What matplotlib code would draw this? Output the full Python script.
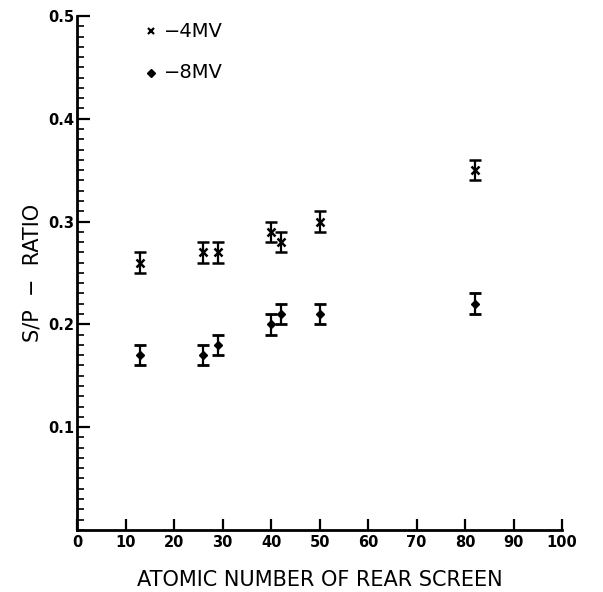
import numpy as np
import matplotlib.pyplot as plt
from matplotlib.ticker import MultipleLocator

# atomic number of rear screen
z = [13, 26, 29, 40, 42, 50, 82]

# S/P ratio for the two beam energies
sp_4mv = [0.26, 0.27, 0.27, 0.29, 0.28, 0.30, 0.35]
sp_8mv = [0.17, 0.17, 0.18, 0.20, 0.21, 0.21, 0.22]
err = [0.01, 0.01, 0.01, 0.01, 0.01, 0.01, 0.01]

labels = ['\u22124MV', '\u22128MV']


def main():
    fig = plt.figure(figsize=(6.03, 5.92), dpi=100)
    ax = fig.add_axes([0.128, 0.105, 0.804, 0.868])

    ax.errorbar(z, sp_4mv, yerr=err, fmt='x', color='black', ms=5.5, mew=1.8,
                ecolor='black', elinewidth=1.6, capsize=4, capthick=2)
    ax.errorbar(z, sp_8mv, yerr=err, fmt='D', color='black', ms=4.5,
                ecolor='black', elinewidth=1.6, capsize=4, capthick=2)

    ax.set_xlim(0, 100)
    ax.set_ylim(0, 0.5)
    ax.set_xticks(range(0, 101, 10))
    ax.set_yticks([0.1, 0.2, 0.3, 0.4, 0.5])
    ax.set_yticklabels(['0.1', '0.2', '0.3', '0.4', '0.5'])
    ax.yaxis.set_minor_locator(MultipleLocator(0.01))

    for s in ['top', 'right']:
        ax.spines[s].set_visible(False)
    for s in ['left', 'bottom']:
        ax.spines[s].set_linewidth(2)

    ax.tick_params(axis='x', direction='in', length=8, width=1.6,
                   labelsize=10.5, pad=4)
    ax.tick_params(axis='y', which='major', direction='in', length=9,
                   width=1.6, labelsize=10.5, pad=2)
    ax.tick_params(axis='y', which='minor', direction='in', length=5,
                   width=1.2)
    for t in ax.get_xticklabels() + ax.get_yticklabels():
        t.set_fontweight('bold')

    ax.set_xlabel('ATOMIC NUMBER OF REAR SCREEN', fontsize=15, labelpad=14)
    ax.set_ylabel('S/P  \u2212  RATIO', fontsize=15, labelpad=4)

    # legend drawn as markers plus text near the top
    ax.plot([15.3], [0.485], 'x', color='black', ms=5, mew=1.6, clip_on=False)
    ax.plot([15.3], [0.445], 'D', color='black', ms=4, clip_on=False)
    ax.text(18.0, 0.485, labels[0], fontsize=14, va='center')
    ax.text(18.0, 0.445, labels[1], fontsize=14, va='center')

    fig.savefig('out.png', dpi=100)


if __name__ == '__main__':
    main()
